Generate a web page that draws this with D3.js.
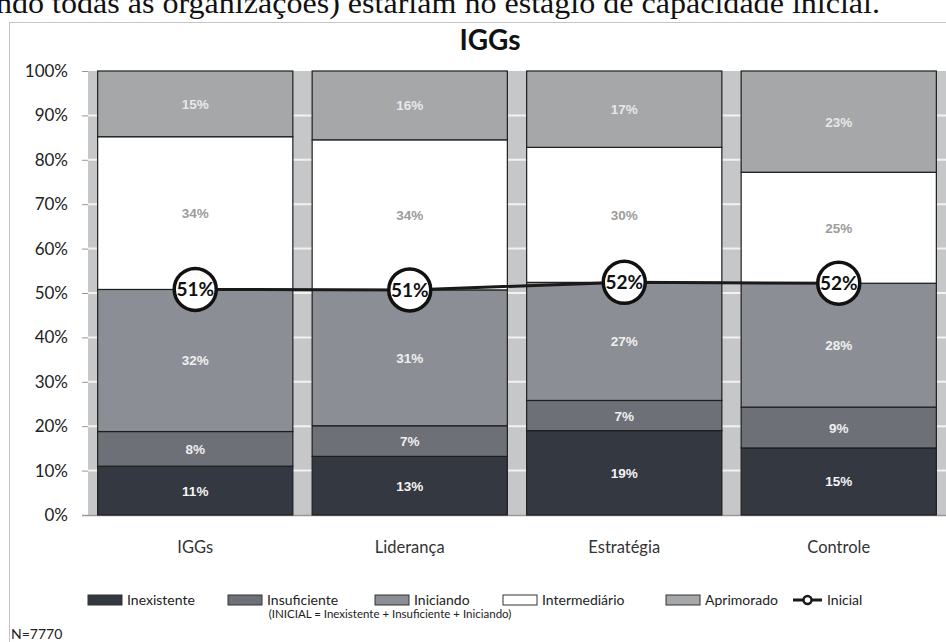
<!DOCTYPE html>
<html>
<head>
<meta charset="utf-8">
<script src="https://cdn.jsdelivr.net/npm/d3@7"></script>
<style>
  body { margin: 0; background: #fff; }
  svg { display: block; }
</style>
</head>
<body>
<div id="main"></div>
<script>
// categorias e series (valores em %)
const categories = ["IGGs", "Liderança", "Estratégia", "Controle"]
const inexistente = [11.0, 13.2, 19.0, 15.1]
const insuficiente = [7.8, 6.9, 6.8, 9.2]
const iniciando = [32.0, 30.6, 26.6, 27.9]
const intermediario = [34.4, 33.8, 30.4, 25.0]
const aprimorado = [14.8, 15.5, 17.2, 22.8]
const inicial = [50.8, 50.7, 52.4, 52.2]
const seriesNames = ["Inexistente", "Insuficiente", "Iniciando", "Intermediário", "Aprimorado"]
const yTicks = [0, 10, 20, 30, 40, 50, 60, 70, 80, 90, 100]

const colors = ["#343840", "#6d7177", "#8c8e95", "#ffffff", "#a6a7a9"]
const labelColors = ["#f4f4f4", "#eeeeee", "#f0f0f0", "#9c9c9c", "#e8e8e8"]

const W = 946, H = 642
const svg = d3.select("#main").append("svg").attr("width", W).attr("height", H)

// texto cortado no topo (digitalização)
svg.append("text").attr("x", -4).attr("y", 13)
  .attr("font-family", "Liberation Serif").attr("font-size", 29).attr("fill", "#111")
  .attr("textLength", 884).attr("lengthAdjust", "spacingAndGlyphs")
  .text("ndo todas as organizações) estariam no estágio de capacidade inicial.")

// moldura pontilhada
svg.append("rect").attr("x", 9.5).attr("y", 22.5).attr("width", 980).attr("height", 660)
  .attr("fill", "none").attr("stroke", "#8a8a8a").attr("stroke-dasharray", "1,1")

svg.append("text").attr("x", 490).attr("y", 50).attr("text-anchor", "middle")
  .attr("font-family", "Lato").attr("font-weight", "bold").attr("font-size", 28).attr("fill", "#111")
  .text("IGGs")

const x = d3.scaleBand().domain(categories).range([88, 946]).paddingInner(0.09).paddingOuter(0.045)
const y = d3.scaleLinear().domain([0, 100]).range([515, 71])

// fundo cinza da area de plotagem + linhas de grade brancas
svg.append("rect").attr("x", 88).attr("y", y(100)).attr("width", 858).attr("height", y(0) - y(100))
  .attr("fill", "#c6c7c9")
svg.append("g").selectAll("line").data(yTicks.slice(1, -1)).enter().append("line")
  .attr("x1", 88).attr("x2", 946).attr("y1", d => y(d)).attr("y2", d => y(d))
  .attr("stroke", "#f2f2f2").attr("stroke-width", 2)

// eixo y
const yAxis = svg.append("g").attr("transform", "translate(88,0)")
  .call(d3.axisLeft(y).tickValues(yTicks).tickFormat(d => d + "%").tickSize(6).tickPadding(14))
yAxis.select(".domain").remove()
yAxis.selectAll("line").attr("stroke", "#999")
yAxis.selectAll("text").attr("font-family", "Lato").attr("font-size", 17).attr("fill", "#222")

// linha base
svg.append("line").attr("x1", 82).attr("x2", 946).attr("y1", y(0) + 0.5).attr("y2", y(0) + 0.5)
  .attr("stroke", "#999").attr("stroke-width", 1.5)

const rows = categories.map((c, i) => ({
  cat: c,
  "Inexistente": inexistente[i], "Insuficiente": insuficiente[i], "Iniciando": iniciando[i],
  "Intermediário": intermediario[i], "Aprimorado": aprimorado[i]
}))
const stacked = d3.stack().keys(seriesNames)(rows)

const layers = svg.append("g").selectAll("g").data(stacked).enter().append("g")
layers.selectAll("rect").data(d => d).enter().append("rect")
  .attr("x", d => x(d.data.cat))
  .attr("y", d => y(d[1]))
  .attr("width", x.bandwidth())
  .attr("height", d => y(d[0]) - y(d[1]))
  .attr("fill", function () { return colors[d3.select(this.parentNode).datum().index] })
  .attr("stroke", "#1e1e1e").attr("stroke-width", 1.2)

layers.selectAll("text").data(d => d).enter().append("text")
  .attr("x", d => x(d.data.cat) + x.bandwidth() / 2)
  .attr("y", d => (y(d[0]) + y(d[1])) / 2 + 5)
  .attr("text-anchor", "middle")
  .attr("font-family", "Liberation Sans").attr("font-weight", "bold").attr("font-size", 13.5)
  .attr("fill", function () { return labelColors[d3.select(this.parentNode).datum().index] })
  .text(d => Math.round(d[1] - d[0]) + "%")

// linha Inicial
const cx = c => x(c) + x.bandwidth() / 2
const line = d3.line().x((d, i) => cx(categories[i])).y(d => y(d))
svg.append("path").datum(inicial).attr("d", line)
  .attr("fill", "none").attr("stroke", "#1a1a1a").attr("stroke-width", 3)
const marks = svg.append("g").selectAll("g").data(inicial).enter().append("g")
  .attr("transform", (d, i) => `translate(${cx(categories[i])},${y(d)})`)
marks.append("circle").attr("r", 21).attr("fill", "#fff").attr("stroke", "#111").attr("stroke-width", 3.5)
marks.append("text").attr("y", 7).attr("text-anchor", "middle")
  .attr("font-family", "Lato").attr("font-weight", "bold").attr("font-size", 19).attr("fill", "#111")
  .text(d => Math.round(d) + "%")

// rotulos das categorias
svg.append("g").selectAll("text").data(categories).enter().append("text")
  .attr("x", d => cx(d)).attr("y", 553).attr("text-anchor", "middle")
  .attr("font-family", "Lato").attr("font-size", 16.5).attr("fill", "#333")
  .text(d => d)

// legenda
const legY = 600
const legX = [88, 228, 375, 503, 666]
const leg = svg.append("g").selectAll("g").data(seriesNames).enter().append("g")
  .attr("transform", (d, i) => `translate(${legX[i]},${legY})`)
leg.append("rect").attr("x", 0).attr("y", -5).attr("width", 34).attr("height", 10)
  .attr("fill", (d, i) => colors[i]).attr("stroke", "#333").attr("stroke-width", 1)
leg.append("text").attr("x", 39).attr("y", 5)
  .attr("font-family", "Lato").attr("font-size", 14).attr("fill", "#222").text(d => d)

const legLine = svg.append("g").attr("transform", `translate(793,${legY})`)
legLine.append("line").attr("x1", 0).attr("x2", 29).attr("stroke", "#1a1a1a").attr("stroke-width", 3)
legLine.append("circle").attr("cx", 14.5).attr("r", 4).attr("fill", "#fff").attr("stroke", "#1a1a1a").attr("stroke-width", 2.5)
legLine.append("text").attr("x", 34).attr("y", 5)
  .attr("font-family", "Lato").attr("font-size", 14).attr("fill", "#222").text("Inicial")

svg.append("text").attr("x", 390).attr("y", legY + 18).attr("text-anchor", "middle")
  .attr("font-family", "Lato").attr("font-size", 11.5).attr("fill", "#222")
  .text("(INICIAL = Inexistente + Insuficiente + Iniciando)")

svg.append("text").attr("x", 11).attr("y", 639)
  .attr("font-family", "Lato").attr("font-size", 14).attr("fill", "#222").text("N=7770")
</script>
</body>
</html>
